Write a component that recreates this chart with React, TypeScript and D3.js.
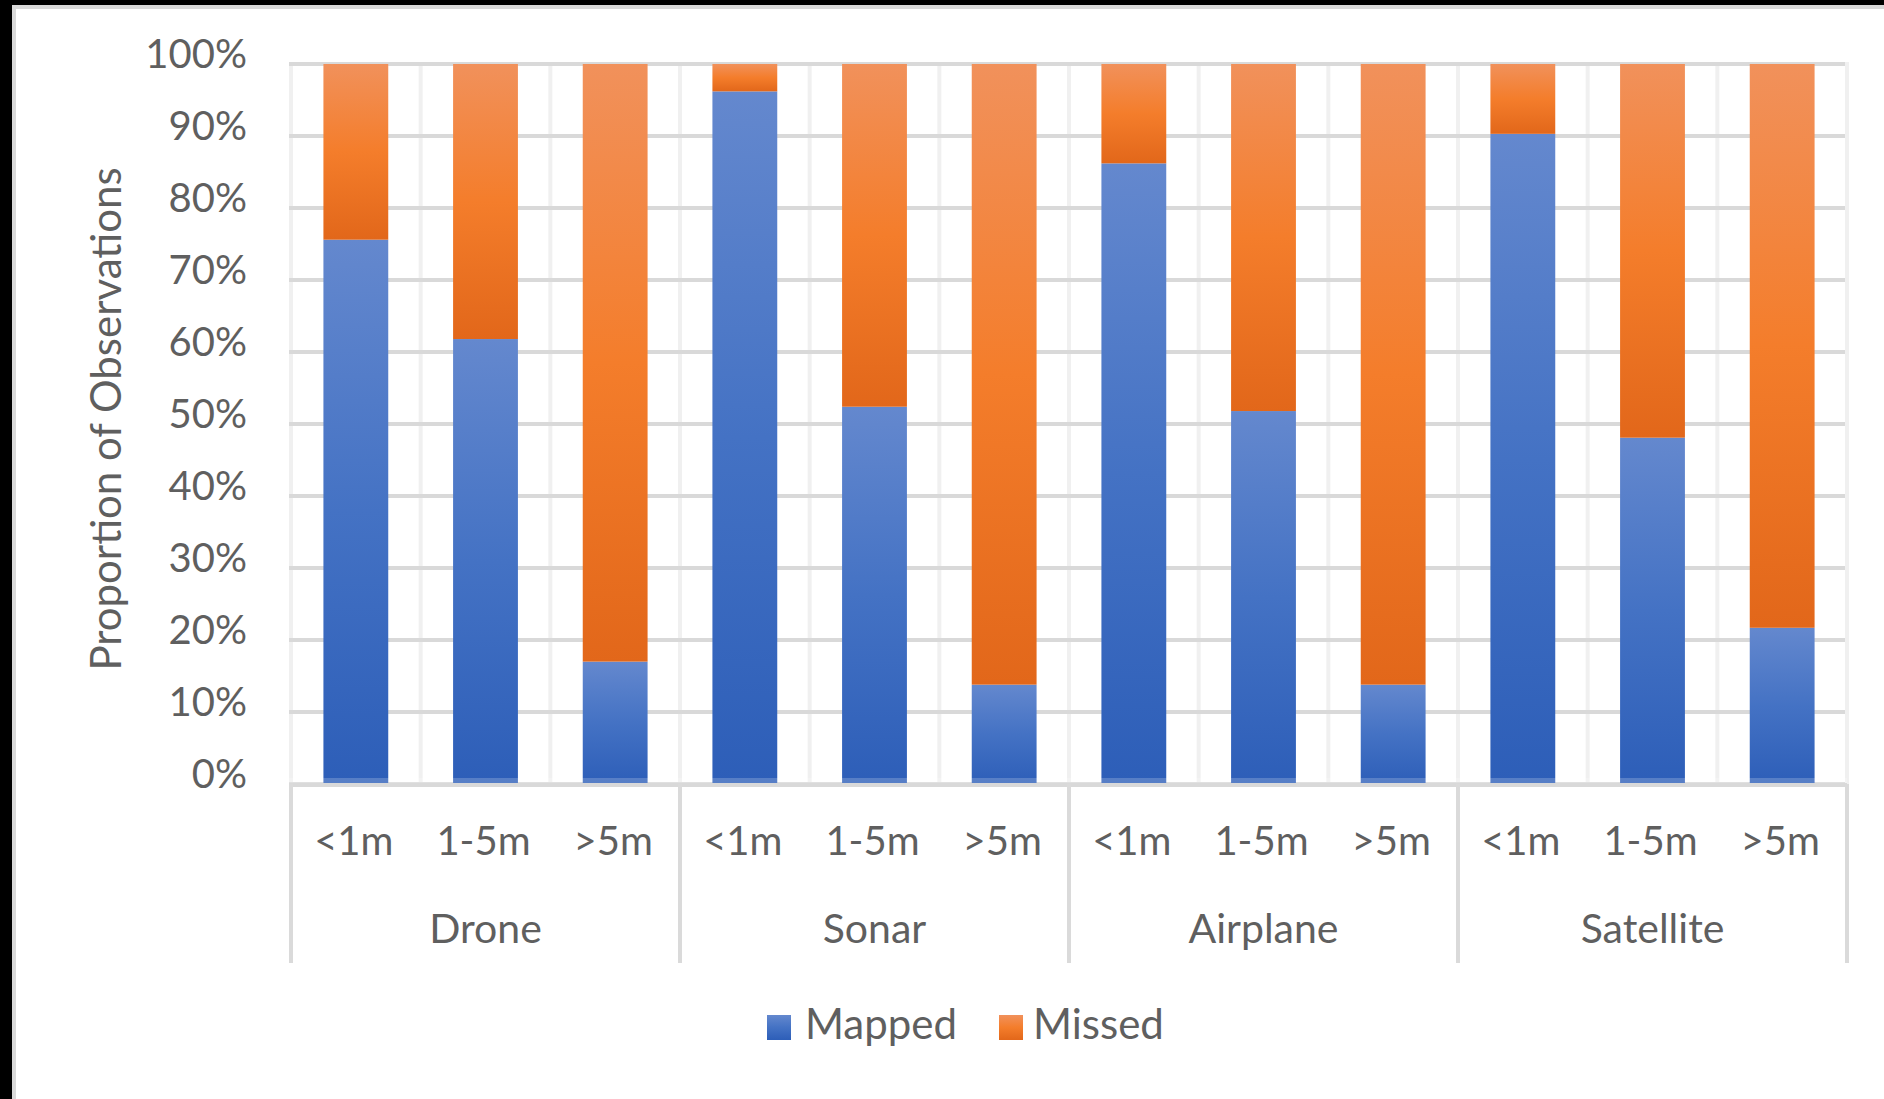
import React from "react";
import * as d3 from "d3";

const groups = ["Drone", "Sonar", "Airplane", "Satellite"];
const sizes = ["<1m", "1-5m", ">5m"];
const mapped = [75.6, 61.8, 17.0, 96.2, 52.4, 13.8, 86.2, 51.8, 13.8, 90.3, 48.1, 21.7];
const yTicks = [0, 10, 20, 30, 40, 50, 60, 70, 80, 90, 100];
const seriesNames = ["Mapped", "Missed"];

const W = 1884;
const H = 1099;
const PX0 = 291;
const PX1 = 1847;
const PY0 = 784;
const PY1 = 64;
const FONT = "Lato, 'Noto Sans', sans-serif";
const TXT = "#5f5f5f";

export default function App() {
  if (typeof document !== "undefined") document.body.style.margin = "0";
  const cats = groups.flatMap((g) => sizes.map((s) => `${g}|${s}`));
  const x = d3.scaleBand().domain(cats).range([PX0, PX1]).paddingInner(0.5).paddingOuter(0.25);
  const y = d3.scaleLinear().domain([0, 100]).range([PY0, PY1]);
  const step = x.step();
  const boundaries = d3.range(cats.length + 1).map((i) => PX0 + i * step);
  const groupBounds = d3.range(groups.length + 1).map((i) => PX0 + i * step * sizes.length);

  const stacked = mapped.map((m, i) => ({ cat: cats[i], m, miss: 100 - m }));

  return (
    <svg width={W} height={H} style={{ position: "absolute", left: 0, top: 0, background: "#fff" }}>
      <defs>
        <linearGradient id="gBlue" x1="0" y1="0" x2="0" y2="1">
          <stop offset="0" stopColor="#6488ce" />
          <stop offset="0.5" stopColor="#4472c4" />
          <stop offset="1" stopColor="#2d5eb8" />
        </linearGradient>
        <linearGradient id="gOrange" x1="0" y1="0" x2="0" y2="1">
          <stop offset="0" stopColor="#f1915b" />
          <stop offset="0.5" stopColor="#f47d2b" />
          <stop offset="1" stopColor="#e2671a" />
        </linearGradient>
      </defs>
      <rect x={0} y={0} width={W} height={H} fill="#fff" />
      {/* frame */}
      <rect x={0} y={0} width={W} height={5} fill="#000" />
      <rect x={0} y={0} width={12} height={H} fill="#000" />
      <rect x={12} y={5} width={W - 12} height={4} fill="#d9d9d9" />
      <rect x={12} y={5} width={4} height={H - 5} fill="#d9d9d9" />

      {/* vertical gridlines */}
      {boundaries.map((bx, i) => (
        <line key={"v" + i} x1={bx} x2={bx} y1={PY1 - 2} y2={PY0} stroke="#f0f0f0" strokeWidth={4} />
      ))}
      {/* horizontal gridlines */}
      {yTicks.map((t) => (
        <line key={"h" + t} x1={PX0 - 2} x2={PX1 - 2} y1={y(t)} y2={y(t)} stroke="#d9d9d9" strokeWidth={4} />
      ))}

      {/* bars */}
      {stacked.map((d) => (
        <g key={d.cat}>
          <rect x={x(d.cat)} y={y(d.m)} width={x.bandwidth()} height={y(0) - y(d.m)} fill="url(#gBlue)" />
          <rect x={x(d.cat)} y={y(100)} width={x.bandwidth()} height={y(d.m) - y(100)} fill="url(#gOrange)" />
        </g>
      ))}

      {/* axis line with halo */}
      <rect x={PX0 - 2} y={PY0 - 6} width={PX1 - PX0 + 2} height={12} fill="#fff" opacity={0.2} />
      <line x1={PX0 - 2} x2={PX1} y1={PY0 + 1} y2={PY0 + 1} stroke="#d9d9d9" strokeWidth={4} />

      {/* group separators */}
      {groupBounds.map((gx, i) => (
        <line key={"gb" + i} x1={gx} x2={gx} y1={PY0} y2={963} stroke="#dadada" strokeWidth={4} />
      ))}

      {/* y tick labels */}
      {yTicks.map((t) => (
        <text key={"yt" + t} x={247} y={y(t) + 4} textAnchor="end" fontFamily={FONT} fontSize={40} fill={TXT}>
          {t + "%"}
        </text>
      ))}

      {/* x labels */}
      {cats.map((c) => (
        <text key={"xl" + c} x={(x(c) as number) + x.bandwidth() / 2 - 2} y={855} textAnchor="middle" fontFamily={FONT} fontSize={40} fill={TXT}>
          {c.split("|")[1]}
        </text>
      ))}
      {groups.map((g, i) => (
        <text key={"gl" + g} x={(groupBounds[i] + groupBounds[i + 1]) / 2} y={943} textAnchor="middle" fontFamily={FONT} fontSize={41} fill={TXT}>
          {g}
        </text>
      ))}

      {/* axis title */}
      <text transform={`translate(121, ${(PY0 + PY1) / 2 - 5}) rotate(-90)`} textAnchor="middle" fontFamily={FONT} fontSize={42} fill={TXT}>
        Proportion of Observations
      </text>

      {/* legend */}
      <rect x={767} y={1015} width={24} height={25} fill="url(#gBlue)" />
      <text x={805} y={1039} fontFamily={FONT} fontSize={42} fill={TXT}>{seriesNames[0]}</text>
      <rect x={999} y={1015} width={24} height={25} fill="url(#gOrange)" />
      <text x={1033} y={1039} fontFamily={FONT} fontSize={42} fill={TXT}>{seriesNames[1]}</text>
    </svg>
  );
}
